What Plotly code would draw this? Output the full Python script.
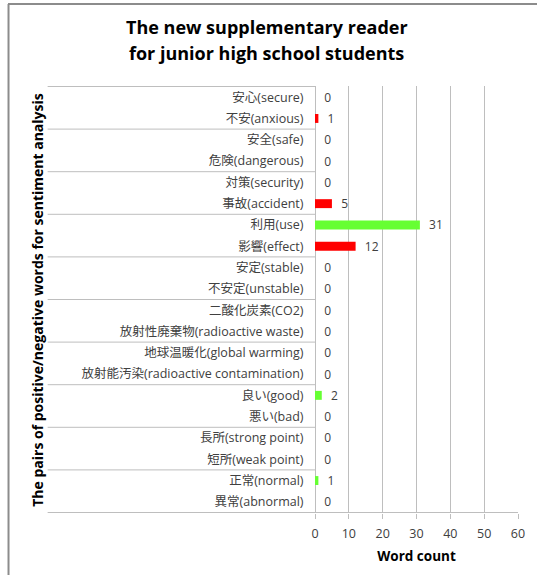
import plotly.graph_objects as go

categories = [
    "安心(secure)", "不安(anxious)", "安全(safe)", "危険(dangerous)",
    "対策(security)", "事故(accident)", "利用(use)", "影響(effect)",
    "安定(stable)", "不安定(unstable)", "二酸化炭素(CO2)", "放射性廃棄物(radioactive waste)",
    "地球温暖化(global warming)", "放射能汚染(radioactive contamination)", "良い(good)", "悪い(bad)",
    "長所(strong point)", "短所(weak point)", "正常(normal)", "異常(abnormal)",
]
counts = [0, 1, 0, 0, 0, 5, 31, 12, 0, 0, 0, 0, 0, 0, 2, 0, 0, 0, 1, 0]
sentiment = ["pos", "neg"] * 10
x_ticks = [0, 10, 20, 30, 40, 50, 60]

title_lines = ["The new supplementary reader", "for junior high school students"]
x_title = "Word count"
y_title = "The pairs of positive/negative words for sentiment analysis"

W, H = 537, 575
L, R, T, B = 315, 17, 86, 62
pw = W - L - R
ph = H - T - B

FONT = "Open Sans, Noto Sans CJK JP, sans-serif"
GRID = "#BEBEBE"
color_map = {"pos": "#66FF33", "neg": "#FF0000"}

fig = go.Figure()
fig.add_trace(go.Bar(
    y=categories, x=counts, orientation="h",
    marker=dict(color=[color_map[s] for s in sentiment], line=dict(width=0)),
    text=counts, texttemplate="\u00a0\u00a0%{x}", textposition="outside",
    constraintext="none",
    textfont=dict(family=FONT, size=12, color="#404040"),
    cliponaxis=False,
))

shapes = []
n = len(categories)
for k in range(0, n + 1, 2):
    yv = k - 0.5
    shapes.append(dict(type="line", xref="paper", yref="y",
                       x0=(45 - L) / pw, x1=0, y0=yv, y1=yv,
                       line=dict(color=GRID, width=1)))
shapes.append(dict(type="line", xref="paper", yref="y", x0=0, x1=1,
                   y0=n - 0.5, y1=n - 0.5, line=dict(color=GRID, width=1)))
# outer chart border (left and top)
top_y = (H - 4 - B) / ph
shapes.append(dict(type="line", xref="paper", yref="paper",
                   x0=(5.5 - L) / pw, x1=(5.5 - L) / pw, y0=top_y, y1=-B / ph - 0.1,
                   line=dict(color="#8C8C8C", width=2)))
shapes.append(dict(type="line", xref="paper", yref="paper",
                   x0=(5 - L) / pw, x1=(W - L) / pw + 0.1, y0=top_y, y1=top_y,
                   line=dict(color="#8C8C8C", width=2)))

annotations = [
    dict(text="<b>" + y_title + "</b>", textangle=-90, xref="paper", yref="paper",
         x=(34.5 - L) / pw, y=0.5, xanchor="center", yanchor="middle", showarrow=False,
         font=dict(family=FONT, size=14, color="#000000")),
]
for i, line in enumerate(title_lines):
    yc = 27 + 26 * i
    annotations.append(dict(text="<b>" + line + "</b>", xref="paper", yref="paper",
                            x=(266.5 - L) / pw, y=(H - B - yc) / ph,
                            xanchor="center", yanchor="middle", showarrow=False,
                            font=dict(family=FONT, size=18, color="#000000")))

fig.update_layout(
    width=W, height=H,
    margin=dict(l=L, r=R, t=T, b=B),
    paper_bgcolor="white", plot_bgcolor="white",
    bargap=0.58,
    showlegend=False,
    font=dict(family=FONT, size=12, color="#404040"),
    shapes=shapes,
    annotations=annotations,
)
fig.update_xaxes(
    range=[0, 60], tickvals=x_ticks, showgrid=True, gridcolor=GRID, gridwidth=1,
    zeroline=True, zerolinecolor=GRID, zerolinewidth=1,
    ticks="outside", ticklen=5, tickcolor=GRID, showline=False,
    ticklabelstandoff=4,
    tickfont=dict(family=FONT, size=12.5, color="#404040"),
    title=dict(text="<b>" + x_title + "</b>", standoff=10,
               font=dict(family=FONT, size=13.5, color="#000000")),
)
fig.update_yaxes(
    autorange="reversed", showgrid=False, zeroline=False, showline=False,
    ticks="outside", ticklen=8, tickcolor="rgba(0,0,0,0)",
    tickfont=dict(family=FONT, size=12.5, color="#404040"),
)

fig.write_html("out.html")
